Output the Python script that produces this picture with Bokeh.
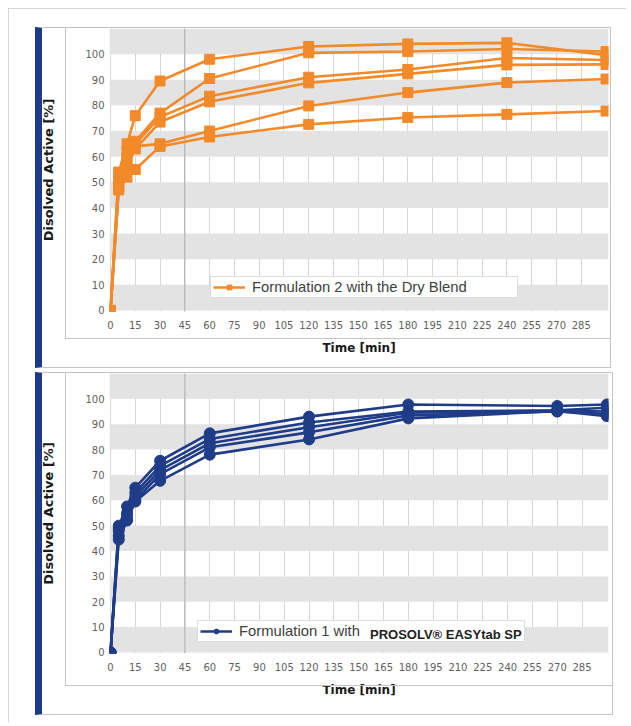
from bokeh.plotting import figure
from bokeh.models import (Range1d, FixedTicker, BoxAnnotation, Span, Legend, LegendItem,
                          InlineStyleSheet)
from bokeh.layouts import column
from bokeh.embed import file_html
from bokeh.resources import INLINE

# ---------------- data ----------------
time_f2 = [0, 5, 10, 15, 30, 60, 120, 180, 240, 300]
f2_a = [0, 54, 65, 76, 89.5, 98, 103, 104, 104.4, 99.6]
f2_b = [0, 51, 60, 66, 77, 90.5, 100.5, 101, 102, 101]
f2_c = [0, 49, 62, 65, 75.5, 83.6, 91, 94, 98.5, 97.7]
f2_d = [0, 48, 56, 63, 73.5, 81.4, 88.8, 92.3, 95.8, 96]
f2_e = [0, 53, 59, 64, 65, 70, 79.8, 85, 88.9, 90.3]
f2_f = [0, 47, 52, 55, 64, 67.7, 72.6, 75.3, 76.5, 77.8]

time_f1 = [0, 5, 10, 15, 30, 60, 120, 180, 270, 300]
f1_a = [0, 50, 57.6, 65, 75.6, 86.4, 93, 97.8, 97.2, 97.8]
f1_b = [0, 49, 55, 63, 73.6, 84.2, 90.7, 95, 95.5, 96.5]
f1_c = [0, 48, 54, 61.5, 71.9, 82.5, 88.8, 94.5, 95.3, 95]
f1_d = [0, 46, 52.5, 60, 70.3, 80.9, 86.8, 93.5, 95, 94]
f1_e = [0, 44.5, 52, 59.5, 67.7, 78, 84, 92.3, 95.2, 93.2]

x_tick_values = [0, 15, 30, 45, 60, 75, 90, 105, 120, 135, 150, 165, 180,
                 195, 210, 225, 240, 255, 270, 285]
y_tick_values = [0, 10, 20, 30, 40, 50, 60, 70, 80, 90, 100]
gray_band_starts = [0, 20, 40, 60, 80, 100]
divider_time = 45

legend_f2 = "Formulation 2 with the Dry Blend"
legend_f1 = "Formulation 1 with"
legend_f1_bold = "PROSOLV\u00ae EASYtab SP"
x_title = "Time [min]"
y_title = "Disolved Active [%]"

ORANGE = "#F28A2A"
NAVY = "#1F3C88"
BAR = "#1B3A8A"
BOX = "#c4c4c4"
PAGE = "#d6d6d6"


def frame_css(outer, inner):
    """outer / inner boxes as (left, top, width, height) in px relative to the figure."""
    ol, ot, ow, oh = outer
    il, it, iw, ih = inner
    css = (
        ":host { position: relative; }\n"
        f":host::before {{ content: ''; position: absolute; left: {ol}px; top: {ot}px; "
        f"width: {ow}px; height: {oh}px; box-sizing: border-box; border: 1px solid {BOX}; "
        f"border-left: 7px solid {BAR}; z-index: 20; pointer-events: none; }}\n"
        f":host::after {{ content: ''; position: absolute; left: {il}px; top: {it}px; "
        f"width: {iw}px; height: {ih}px; box-sizing: border-box; border: 1px solid {BOX}; "
        f"z-index: 20; pointer-events: none; }}\n"
    )
    return InlineStyleSheet(css=css)


def make_panel(times, series, color, marker, msize, width, height, borders, xr):
    bl, br, bt, bb = borders
    p = figure(width=width, height=height, x_range=Range1d(*xr), y_range=Range1d(-0.4, 110),
               output_backend="svg", toolbar_location=None,
               min_border_left=bl, min_border_right=br, min_border_top=bt, min_border_bottom=bb,
               background_fill_color="white", border_fill_color="white",
               outline_line_color=None)
    p.xaxis.ticker = FixedTicker(ticks=x_tick_values)
    p.yaxis.ticker = FixedTicker(ticks=y_tick_values)
    for ax in (p.xaxis[0], p.yaxis[0]):
        ax.axis_line_color = None
        ax.major_tick_line_color = None
        ax.minor_tick_line_color = None
        ax.major_tick_out = 0
        ax.major_tick_in = 0
        ax.major_label_text_font = "DejaVu Sans"
        ax.major_label_text_font_size = "10px"
        ax.major_label_text_color = "#5f5f5f"
        ax.axis_label_text_font = "DejaVu Sans"
        ax.axis_label_text_font_style = "bold"
        ax.axis_label_text_color = "#1a1a1a"
    p.xaxis.axis_label = x_title
    p.yaxis.axis_label = y_title
    p.xaxis.axis_label_text_font_size = "12px"
    p.yaxis.axis_label_text_font_size = "13px"
    p.xaxis.major_label_standoff = 9
    p.xaxis.axis_label_standoff = 9
    p.yaxis.major_label_standoff = 5
    p.yaxis.axis_label_standoff = 26

    p.ygrid.grid_line_color = None
    p.xgrid.ticker = FixedTicker(ticks=x_tick_values)
    p.xgrid.grid_line_color = "#d6d6d6"
    p.xgrid.grid_line_width = 1

    for b in gray_band_starts:
        p.add_layout(BoxAnnotation(bottom=b, top=b + 10, fill_color="#e3e3e3", fill_alpha=1.0,
                                   line_color=None, level="underlay"))
    p.add_layout(Span(location=divider_time, dimension="height", line_color="#a9a9a9",
                      line_width=1, level="underlay"))

    first = None
    for s in series:
        rl = p.line(times, s, line_color=color, line_width=2.6)
        rm = p.scatter(times, s, marker=marker, size=msize, fill_color=color, line_color=color)
        if first is None:
            first = [rl, rm]
    return p, first


def make_legend(label, renderers, loc, label_width, bg_alpha=1.0, border="#bdbdbd",
                font_size="14.8px", style="normal", glyph_width=32, standoff=7,
                color="#404040"):
    return Legend(items=[LegendItem(label=label, renderers=renderers)], location=loc,
                  padding=2, margin=0, spacing=0, glyph_width=glyph_width, glyph_height=12,
                  label_height=12, label_width=label_width, label_standoff=standoff,
                  border_line_color=border, border_line_width=1,
                  background_fill_color="white", background_fill_alpha=bg_alpha,
                  label_text_font="Liberation Sans", label_text_font_size=font_size,
                  label_text_font_style=style, label_text_color=color)


# ---------------- top panel (page y 0..370) ----------------
p1, r1 = make_panel(time_f2, [f2_a, f2_b, f2_c, f2_d, f2_e, f2_f], ORANGE, "square", 10,
                    625, 370, (109, 15, 28, 59), (-0.6, 301.5))
p1.add_layout(make_legend(legend_f2, r1, (101, 13), 263))
p1.stylesheets = [frame_css((35, 27, 576, 341), (65, 27, 546, 312))]

# ---------------- bottom panel (page y 370..724) ----------------
p2, r2 = make_panel(time_f1, [f1_a, f1_b, f1_c, f1_d, f1_e], NAVY, "circle", 11,
                    625, 354, (109, 17, 3, 71), (-0.6, 301.0))
p2.add_layout(make_legend(legend_f1, r2, (88, 11), 283, bg_alpha=1.0))
ghost = p2.line(time_f1, f1_a, line_alpha=0.0)
p2.add_layout(make_legend(legend_f1_bold, [ghost], (261, 11), 10, bg_alpha=0.0, border=None,
                          font_size="13px", style="bold", glyph_width=0, standoff=0,
                          color="#222222"))
p2.stylesheets = [frame_css((35, 2, 578, 343), (65, 2, 548, 314))]

page_css = InlineStyleSheet(css=(
    ":host { position: relative; }\n"
    f":host::before {{ content: ''; position: absolute; left: 8px; top: 8px; width: 618px; "
    f"height: 714px; box-sizing: border-box; border-left: 1px solid {PAGE}; "
    f"border-top: 1px solid {PAGE}; z-index: 20; pointer-events: none; }}\n"
))
layout = column(p1, p2, spacing=0, stylesheets=[page_css])
open("out.html", "w").write(file_html(layout, INLINE))
